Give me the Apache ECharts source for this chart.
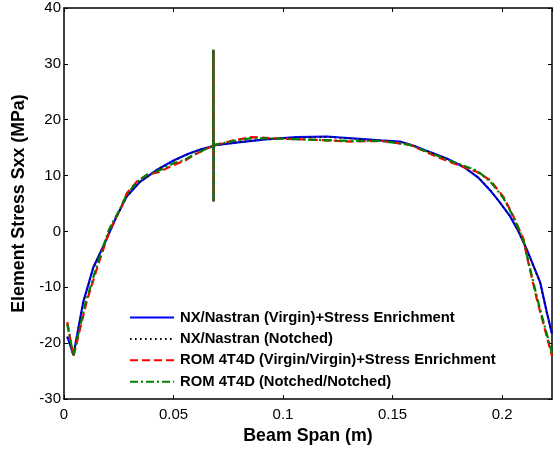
<!DOCTYPE html>
<html>
<head>
<meta charset="utf-8">
<script src="https://cdn.jsdelivr.net/npm/echarts@6/dist/echarts.min.js"></script>
<style>html,body{margin:0;padding:0;background:#fff}#c{width:555px;height:450px}</style>
</head>
<body>
<div id="c"></div>
<script>
const seriesNames = [
  'NX/Nastran (Virgin)+Stress Enrichment',
  'NX/Nastran (Notched)',
  'ROM 4T4D (Virgin/Virgin)+Stress Enrichment',
  'ROM 4T4D (Notched/Notched)'
];
const xTicks = [0, 0.05, 0.1, 0.15, 0.2];
const yTicks = [-30, -20, -10, 0, 10, 20, 30, 40];

const nxVirginX = [0.0015,0.0043,0.0088,0.0134,0.018,0.024,0.0286,0.0347,0.0423,0.05,0.0568,0.0625,0.0681,0.0682,0.0683,0.0684,0.0804,0.092,0.1062,0.12,0.1443,0.1534,0.16,0.1671,0.175,0.1823,0.189,0.1945,0.199,0.2037,0.2075,0.2113,0.2174,0.2204,0.2228];
const nxVirginY = [-18.8,-22.1,-12.6,-6.4,-2.6,2.7,6.25,8.9,11.0,12.7,13.9,14.7,15.3,32.5,5.4,15.4,16.0,16.5,16.9,17.0,16.3,16.1,15.3,14.2,13.0,11.6,9.7,7.4,5.2,2.7,0.0,-3.2,-9.1,-14.4,-18.3];

const nxNotchedX = [0.0015,0.0043,0.0088,0.0134,0.018,0.024,0.0286,0.0347,0.0423,0.05,0.0568,0.0625,0.0681,0.0682,0.0683,0.0684,0.0804,0.092,0.1062,0.12,0.1443,0.1534,0.16,0.1671,0.175,0.1823,0.189,0.1945,0.199,0.2037,0.2075,0.2113,0.2174,0.2204,0.2228];
const nxNotchedY = [-18.9,-22.0,-12.7,-6.5,-2.6,2.6,6.2,8.9,11.0,12.6,13.9,14.7,15.3,32.4,5.5,15.4,16.0,16.5,16.8,16.9,16.3,16.0,15.3,14.2,13.0,11.6,9.7,7.5,5.2,2.7,0.0,-3.3,-9.2,-14.5,-18.4];

const romVirginX = [0.0015,0.0043,0.0103,0.0157,0.021,0.0263,0.0286,0.0332,0.0377,0.0438,0.05,0.0553,0.059,0.065,0.0681,0.0682,0.0683,0.0684,0.0773,0.0857,0.1,0.115,0.13,0.145,0.158,0.1701,0.1778,0.1884,0.1945,0.2006,0.2052,0.2098,0.2113,0.2158,0.2228];
const romVirginY = [-16.2,-22.4,-12.6,-5.8,0.35,4.5,6.8,8.9,10.1,10.7,11.9,12.7,13.6,14.8,15.3,32.5,5.4,15.4,16.3,16.9,16.6,16.4,16.1,16.2,15.5,13.4,12.2,10.7,9.2,6.2,2.7,-1.4,-4.4,-12.0,-22.3];

const romNotchedX = [0.0015,0.0043,0.0098,0.0152,0.0205,0.026,0.0286,0.0335,0.038,0.044,0.05,0.0555,0.059,0.065,0.0681,0.0682,0.0683,0.0684,0.0775,0.0857,0.1,0.115,0.13,0.145,0.158,0.1701,0.178,0.1884,0.1945,0.2006,0.2052,0.2098,0.2113,0.2162,0.2228];
const romNotchedY = [-16.6,-22.2,-12.8,-5.9,0.3,4.4,6.6,8.9,10.2,11.0,12.2,12.9,13.7,14.8,15.3,32.6,5.3,15.5,16.2,16.7,16.6,16.4,16.2,16.2,15.5,13.6,12.4,10.9,9.0,6.0,2.6,-1.6,-4.2,-12.2,-21.8];

function pairs(xs, ys){ return xs.map((x,i)=>[x, ys[i]]); }

const chart = echarts.init(document.getElementById('c'));
const FONT = 'Liberation Sans, Arial, sans-serif';
const axisLine = {show:true, onZero:false, lineStyle:{color:'#000', width:1.5}};
const axisTick = {show:true, inside:true, length:4, lineStyle:{color:'#000', width:1}};
const clear = 'rgba(0,0,0,0)';

chart.setOption({
  backgroundColor:'#fff',
  animation:false,
  grid:{left:64, top:8, right:3, bottom:48, containLabel:false},
  legend:{
    orient:'vertical', left:129, top:310, padding:0,
    itemWidth:44, itemHeight:14, itemGap:6.4,
    itemStyle:{color:clear, borderColor:clear, borderWidth:0},
    textStyle:{fontFamily:FONT, fontWeight:'bold', fontSize:14.8, color:'#000', lineHeight:14, padding:[0,0,0,1]},
    data: seriesNames.map(n=>({name:n}))
  },
  xAxis:[{
    type:'value', min:0, max:0.2228, interval:0.05,
    name:'Beam Span (m)', nameLocation:'middle', nameGap:25,
    nameTextStyle:{fontFamily:FONT, fontWeight:'bold', fontSize:17.8, color:'#000'},
    axisLine, axisTick,
    axisLabel:{fontFamily:FONT, fontSize:15, color:'#000', margin:8, showMaxLabel:false,
      formatter:v=>xTicks.includes(+v.toFixed(4)) ? String(+v.toFixed(4)) : ''},
    splitLine:{show:false}
  },{
    type:'value', position:'top', min:0, max:0.2228, interval:0.05,
    axisLine, axisTick, axisLabel:{show:false}, splitLine:{show:false}
  }],
  yAxis:[{
    type:'value', min:-30, max:40, interval:10,
    name:'Element Stress Sxx (MPa)', nameLocation:'middle', nameGap:36,
    nameTextStyle:{fontFamily:FONT, fontWeight:'bold', fontSize:17.8, color:'#000'},
    axisLine, axisTick,
    axisLabel:{fontFamily:FONT, fontSize:15, color:'#000', margin:3,
      formatter:v=>yTicks.includes(v) ? String(v) : ''},
    splitLine:{show:false}
  },{
    type:'value', position:'right', min:-30, max:40, interval:10,
    axisLine, axisTick, axisLabel:{show:false}, splitLine:{show:false}
  }],
  series:[
    {name:seriesNames[0], type:'line', data:pairs(nxVirginX,nxVirginY), showSymbol:false, symbol:'none',
      lineStyle:{color:'#0000ff', width:2.2, type:'solid'}, itemStyle:{color:'#0000ff'}, z:2},
    {name:seriesNames[1], type:'line', data:pairs(nxNotchedX,nxNotchedY), showSymbol:false, symbol:'none',
      lineStyle:{color:'#000', width:1.6, type:[1.6,3.4]}, itemStyle:{color:'#000'}, z:3},
    {name:seriesNames[2], type:'line', data:pairs(romVirginX,romVirginY), showSymbol:false, symbol:'none',
      lineStyle:{color:'#ff0000', width:2.2, type:[8,4]}, itemStyle:{color:'#ff0000'}, z:4},
    {name:seriesNames[3], type:'line', data:pairs(romNotchedX,romNotchedY), showSymbol:false, symbol:'none',
      lineStyle:{color:'#008000', width:2.2, type:[8,3,2,3]}, itemStyle:{color:'#008000'}, z:5}
  ]
});
</script>
</body>
</html>
